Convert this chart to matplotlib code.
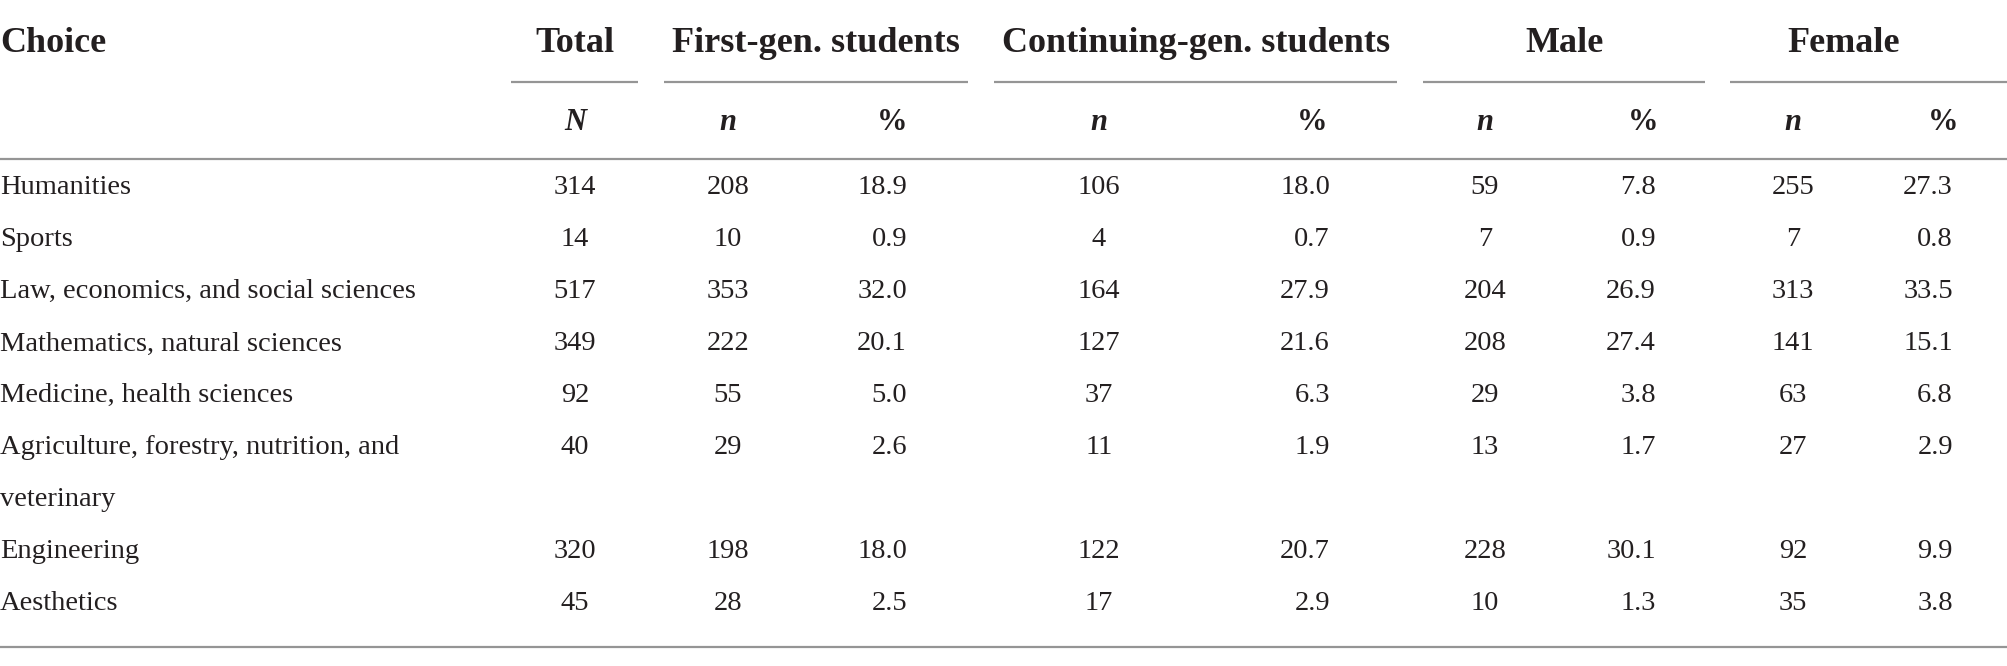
import matplotlib.pyplot as plt

# table content
choices = [
    "Humanities",
    "Sports",
    "Law, economics, and social sciences",
    "Mathematics, natural sciences",
    "Medicine, health sciences",
    "Agriculture, forestry, nutrition, and\nveterinary",
    "Engineering",
    "Aesthetics",
]
total_n = [314, 14, 517, 349, 92, 40, 320, 45]
first_gen_n = [208, 10, 353, 222, 55, 29, 198, 28]
first_gen_pct = [18.9, 0.9, 32.0, 20.1, 5.0, 2.6, 18.0, 2.5]
cont_gen_n = [106, 4, 164, 127, 37, 11, 122, 17]
cont_gen_pct = [18.0, 0.7, 27.9, 21.6, 6.3, 1.9, 20.7, 2.9]
male_n = [59, 7, 204, 208, 29, 13, 228, 10]
male_pct = [7.8, 0.9, 26.9, 27.4, 3.8, 1.7, 30.1, 1.3]
female_n = [255, 7, 313, 141, 63, 27, 92, 35]
female_pct = [27.3, 0.8, 33.5, 15.1, 6.8, 2.9, 9.9, 3.8]

group_labels = ["Total", "First-gen. students", "Continuing-gen. students", "Male", "Female"]

W, H = 2008, 666
FONT = "Liberation Serif"
TXT = "#231f20"
LINE = "#959595"
FS = 20.5        # body
FS_HEAD = 26     # group headers
FS_SUB = 22      # N / n / %

fig = plt.figure(figsize=(W / 100, H / 100), dpi=100)
ax = fig.add_axes([0, 0, 1, 1])
ax.set_xlim(0, W)
ax.set_ylim(H, 0)
ax.axis("off")

# layout (pixels)
head_y, sub_y = 44, 123
row_y = [187, 240, 291, 344, 395, 447, 552, 604]
group_x = [575, 816, 1196, 1565, 1844]
group_lines = [(511, 638), (664, 968), (994, 1397), (1423, 1705), (1730, 2008)]
n_centers = [728, 1099, 1485, 1793]
pct_rights = [907, 1330, 1656, 1953]
pct_head = [892, 1312, 1643, 1943]

ax.text(0, head_y, "Choice", fontsize=FS_HEAD, fontweight="bold", family=FONT,
        color=TXT, ha="left", va="center")
for lbl, x in zip(group_labels, group_x):
    ax.text(x, head_y, lbl, fontsize=FS_HEAD, fontweight="bold", family=FONT,
            color=TXT, ha="center", va="center")
for x0, x1 in group_lines:
    ax.hlines(82, x0, x1, color=LINE, lw=1.6)

ax.text(575, sub_y, "N", fontsize=FS_SUB, fontweight="bold", style="italic",
        family=FONT, color=TXT, ha="center", va="center")
for xn, xp in zip(n_centers, pct_head):
    ax.text(xn, sub_y, "n", fontsize=FS_SUB, fontweight="bold", style="italic",
            family=FONT, color=TXT, ha="center", va="center")
    ax.text(xp, sub_y, "%", fontsize=FS_SUB, fontweight="bold",
            family=FONT, color=TXT, ha="center", va="center")

ax.hlines(159, 0, W, color=LINE, lw=1.6)
ax.hlines(647, 0, W, color=LINE, lw=1.6)

n_cols = [first_gen_n, cont_gen_n, male_n, female_n]
pct_cols = [first_gen_pct, cont_gen_pct, male_pct, female_pct]

for i, y in enumerate(row_y):
    label = choices[i]
    if "\n" in label:
        first, second = label.split("\n")
        ax.text(0, y, first, fontsize=FS, family=FONT, color=TXT, ha="left", va="center")
        ax.text(0, y + 52, second, fontsize=FS, family=FONT, color=TXT, ha="left", va="center")
    else:
        ax.text(0, y, label, fontsize=FS, family=FONT, color=TXT, ha="left", va="center")
    ax.text(575, y, str(total_n[i]), fontsize=FS, family=FONT, color=TXT,
            ha="center", va="center")
    for xn, xp, ncol, pcol in zip(n_centers, pct_rights, n_cols, pct_cols):
        ax.text(xn, y, str(ncol[i]), fontsize=FS, family=FONT, color=TXT,
                ha="center", va="center")
        ax.text(xp, y, f"{pcol[i]:.1f}", fontsize=FS, family=FONT, color=TXT,
                ha="right", va="center")

fig.savefig("out.png", dpi=100, facecolor="white")
